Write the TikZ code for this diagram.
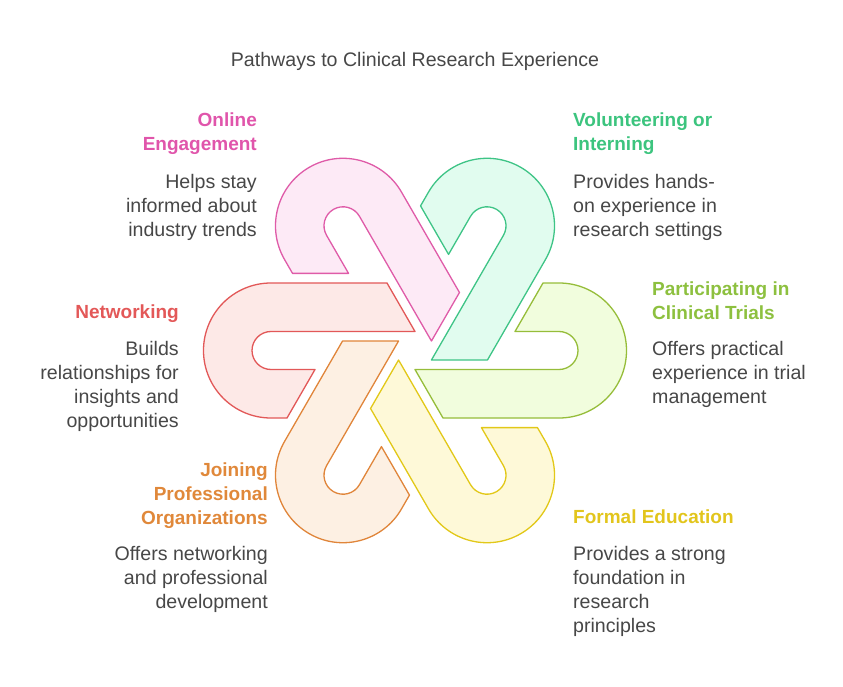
\documentclass[tikz,border=0pt]{standalone}
\usepackage{fontspec}
\setmainfont{Liberation Sans}
\definecolor{txt}{HTML}{474747}
\definecolor{pinkS}{HTML}{DF5BA8}\definecolor{pinkF}{HTML}{FDEAF6}\definecolor{pinkT}{HTML}{E055AB}
\definecolor{greenS}{HTML}{3EC486}\definecolor{greenF}{HTML}{E1FCEF}\definecolor{greenT}{HTML}{3CC47E}
\definecolor{limeS}{HTML}{96BD3A}\definecolor{limeF}{HTML}{F1FDDD}\definecolor{limeT}{HTML}{8DC03F}
\definecolor{yelS}{HTML}{E2C818}\definecolor{yelF}{HTML}{FEF9D8}\definecolor{yelT}{HTML}{E2C51C}
\definecolor{oraS}{HTML}{E0853A}\definecolor{oraF}{HTML}{FDF0E3}\definecolor{oraT}{HTML}{E0883A}
\definecolor{redS}{HTML}{E25858}\definecolor{redF}{HTML}{FDE9E7}\definecolor{redT}{HTML}{E35858}
\begin{document}
\begin{tikzpicture}[x=1pt,y=1pt,
  hook/.pic={\path[pic actions] (0,19) -- (-144,19) arc[start angle=90,end angle=270,radius=19pt] -- (-100,-19) -- (-128,-67.5) -- (-144,-67.5) arc[start angle=270,end angle=90,radius=67.5pt] -- (-28,67.5) -- cycle;},
  hookstyle/.style={line width=1.3pt, line join=round},
  head/.style={font=\fontsize{19}{24}\selectfont\bfseries, inner sep=0pt},
  body/.style={font=\fontsize{19.6}{24}\selectfont, text=txt, inner sep=0pt},
  lefttext/.style={anchor=base west, align=left},
  righttext/.style={anchor=base east, align=right}]
\useasboundingbox (0,0) rectangle (843,-687);
\coordinate (c) at (415,-350.5);
\pic[hookstyle, draw=redS, fill=redF] at (c) {hook};
\pic[hookstyle, draw=pinkS, fill=pinkF, rotate=-60] at (c) {hook};
\pic[hookstyle, draw=greenS, fill=greenF, rotate=-120] at (c) {hook};
\pic[hookstyle, draw=limeS, fill=limeF, rotate=-180] at (c) {hook};
\pic[hookstyle, draw=yelS, fill=yelF, rotate=-240] at (c) {hook};
\pic[hookstyle, draw=oraS, fill=oraF, rotate=-300] at (c) {hook};
\node[body, anchor=base] (title) at (415,-67) {Pathways to Clinical Research Experience};
\node[head, righttext, text=pinkT] (h1) at (257,-150.7) {Online\\Engagement};
\node[body, righttext] (b1) at (257,-236.3) {Helps stay\\informed about\\industry trends};
\node[head, lefttext, text=greenT] (h2) at (573,-150.7) {Volunteering or\\Interning};
\node[body, lefttext] (b2) at (573,-236.3) {Provides hands-\\on experience in\\research settings};
\node[head, righttext, text=redT] (h3) at (179,-318.3) {Networking};
\node[body, righttext] (b3) at (179,-427) {Builds\\relationships for\\insights and\\opportunities};
\node[head, lefttext, text=limeT] (h4) at (652,-319) {Participating in\\Clinical Trials};
\node[body, lefttext] (b4) at (652,-403) {Offers practical\\experience in trial\\management};
\node[head, righttext, text=oraT] (h5) at (268,-524.7) {Joining\\Professional\\Organizations};
\node[body, righttext] (b5) at (268,-608) {Offers networking\\and professional\\development};
\node[head, lefttext, text=yelT] (h6) at (573,-523.3) {Formal Education};
\node[body, lefttext] (b6) at (573,-632) {Provides a strong\\foundation in\\research\\principles};
\end{tikzpicture}
\end{document}
